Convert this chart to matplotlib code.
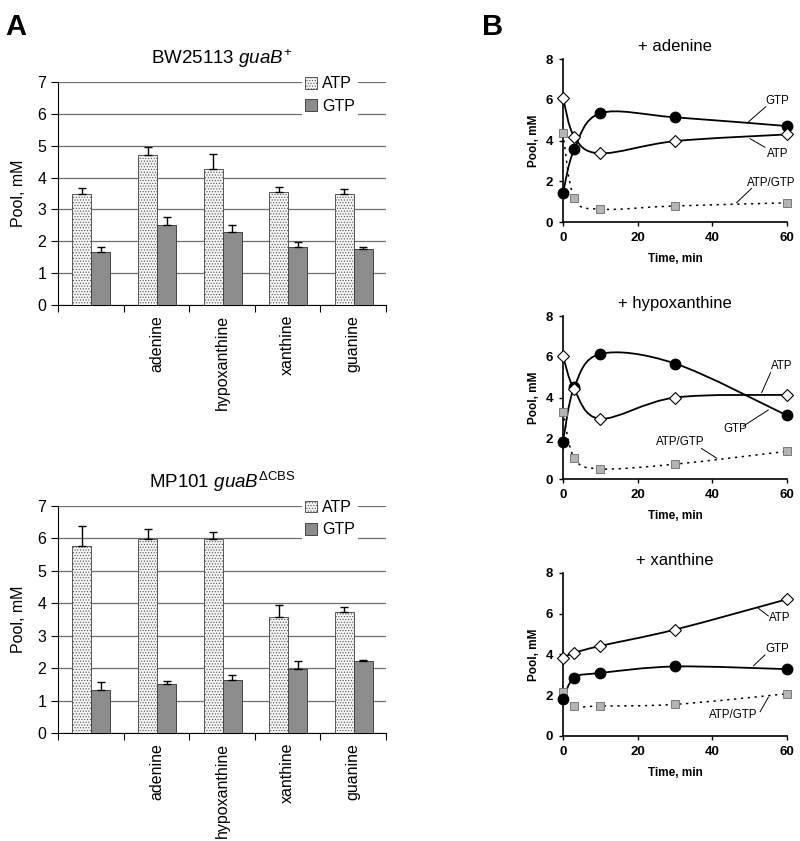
import matplotlib
matplotlib.use('Agg')
import matplotlib.pyplot as plt
from matplotlib.path import Path
from matplotlib.patches import PathPatch, Patch
import numpy as np

plt.rcParams['font.family'] = ['Liberation Sans', 'DejaVu Sans']
plt.rcParams['mathtext.fontset'] = 'custom'
plt.rcParams['mathtext.rm'] = 'Liberation Sans'
plt.rcParams['mathtext.it'] = 'Liberation Sans:italic'
plt.rcParams['hatch.color'] = '#a8a8a8'
plt.rcParams['hatch.linewidth'] = 0.5

######## Data ########

categories = ['', 'adenine', 'hypoxanthine', 'xanthine', 'guanine']

# BW25113 guaB+
wt_atp = [3.50, 4.70, 4.27, 3.55, 3.47]
wt_atp_err = [0.17, 0.27, 0.46, 0.15, 0.17]
wt_gtp = [1.67, 2.50, 2.30, 1.83, 1.75]
wt_gtp_err = [0.16, 0.25, 0.22, 0.14, 0.08]

# MP101 guaB dCBS
mut_atp = [5.78, 5.97, 5.98, 3.58, 3.72]
mut_atp_err = [0.59, 0.33, 0.22, 0.37, 0.15]
mut_gtp = [1.33, 1.50, 1.62, 1.98, 2.23]
mut_gtp_err = [0.25, 0.10, 0.16, 0.24, 0.03]

time_min = [0, 3, 10, 30, 60]

ade_atp = [6.11, 4.19, 3.37, 3.97, 4.30]
ade_gtp = [1.43, 3.56, 5.34, 5.14, 4.71]
ade_ratio = [4.35, 1.18, 0.63, 0.79, 0.94]

hyp_atp = [6.04, 4.40, 2.96, 4.00, 4.13]
hyp_gtp = [1.84, 4.50, 6.14, 5.67, 3.12]
hyp_ratio = [3.31, 1.03, 0.50, 0.73, 1.36]

xan_atp = [3.85, 4.08, 4.42, 5.22, 6.71]
xan_gtp = [1.80, 2.86, 3.09, 3.41, 3.28]
xan_ratio = [2.17, 1.47, 1.47, 1.55, 2.07]


def smooth_path(x, y):
    # Excel-style smoothed line: Catmull-Rom segments as cubic Beziers
    x = np.asarray(x, float)
    y = np.asarray(y, float)
    pts = np.column_stack([x, y])
    n = len(pts)
    verts = [pts[0]]
    codes = [Path.MOVETO]
    for i in range(n - 1):
        p0 = pts[max(i - 1, 0)]
        p1 = pts[i]
        p2 = pts[i + 1]
        p3 = pts[min(i + 2, n - 1)]
        c1 = p1 + (p2 - p0) / 6.0
        c2 = p2 - (p3 - p1) / 6.0
        verts += [c1, c2, p2]
        codes += [Path.CURVE4] * 3
    return Path(verts, codes)


fig = plt.figure(figsize=(8, 8.41), dpi=100)


######## Panel A: bar charts ########

def bar_panel(rect, atp, atp_err, gtp, gtp_err, title):
    ax = fig.add_axes(rect)
    idx = np.arange(len(categories))
    w = 0.29
    ax.bar(idx + 0.22, atp, width=w, align='edge', color='#f4f4f4',
           edgecolor='#555555', linewidth=0.7, hatch='......', zorder=3)
    ax.bar(idx + 0.51, gtp, width=w, align='edge', color='#8c8c8c',
           edgecolor='#444444', linewidth=0.7, zorder=3)
    ax.errorbar(idx + 0.22 + w / 2, atp, yerr=[np.zeros(len(atp)), atp_err],
                fmt='none', ecolor='black', elinewidth=1.0, capsize=3, capthick=1.0, zorder=4)
    ax.errorbar(idx + 0.51 + w / 2, gtp, yerr=[np.zeros(len(gtp)), gtp_err],
                fmt='none', ecolor='black', elinewidth=1.0, capsize=3, capthick=1.0, zorder=4)
    ax.set_xlim(0, 5)
    ax.set_ylim(0, 7)
    ax.set_yticks(range(8))
    ax.yaxis.grid(True, color='#6e6e6e', linewidth=0.9)
    ax.set_axisbelow(True)
    ax.set_xticks(range(6))
    ax.set_xticklabels([])
    ax.set_xticks(idx + 0.5, minor=True)
    ax.set_xticklabels(categories, minor=True, rotation=90, fontsize=11.5)
    ax.tick_params(axis='x', which='minor', length=0, pad=7)
    ax.tick_params(axis='x', which='major', length=5, direction='out')
    ax.tick_params(axis='y', length=5, labelsize=11.5)
    for s in ['top', 'right']:
        ax.spines[s].set_visible(False)
    ax.set_ylabel('Pool, mM', fontsize=11.5, labelpad=8)
    ax.set_title(title, fontsize=13.5, pad=13)
    handles = [Patch(facecolor='#f4f4f4', edgecolor='#555555', hatch='......', linewidth=0.7),
               Patch(facecolor='#8c8c8c', edgecolor='#444444', linewidth=0.7)]
    leg = ax.legend(handles, ['ATP', 'GTP'], loc='upper right', bbox_to_anchor=(0.94, 1.075),
                    frameon=True, fancybox=False, edgecolor='none', facecolor='white',
                    framealpha=1, fontsize=11.5, handlelength=0.75, handleheight=0.75,
                    handletextpad=0.3, labelspacing=0.45, borderpad=0.2)
    leg.set_zorder(5)
    return ax


bar_panel([0.0725, 0.6373, 0.41, 0.2652], wt_atp, wt_atp_err, wt_gtp, wt_gtp_err,
          r'BW25113 $\mathit{guaB}^{+}$')
bar_panel([0.0725, 0.1284, 0.41, 0.27], mut_atp, mut_atp_err, mut_gtp, mut_gtp_err,
          r'MP101 $\mathit{guaB}^{\Delta\mathrm{CBS}}$')


######## Panel B: time courses ########

def time_panel(rect, title, atp, gtp, ratio, labels):
    ax = fig.add_axes(rect)
    for ys in [atp, gtp]:
        ax.add_patch(PathPatch(smooth_path(time_min, ys), facecolor='none',
                               edgecolor='black', linewidth=1.3, zorder=2))
    ax.add_patch(PathPatch(smooth_path(time_min, ratio), facecolor='none',
                           edgecolor='black', linewidth=1.1, linestyle=(0, (1.5, 3)), zorder=2))
    ax.plot(time_min, ratio, 's', ms=5.5, mfc='#b4b4b4', mec='#6a6a6a', mew=0.6,
            clip_on=False, zorder=3)
    ax.plot(time_min, gtp, 'o', ms=7.5, mfc='black', mec='black', clip_on=False, zorder=4)
    ax.plot(time_min, atp, 'D', ms=6.5, mfc='white', mec='black', mew=0.8,
            clip_on=False, zorder=5)
    for text, txy, p1, p2 in labels:
        ax.plot([p1[0], p2[0]], [p1[1], p2[1]], color='black', linewidth=0.7, zorder=6)
        ax.text(txy[0], txy[1], text, fontsize=8.3, ha='center', va='center', zorder=6)
    ax.set_xlim(0, 60)
    ax.set_ylim(0, 8)
    ax.set_xticks([0, 20, 40, 60])
    ax.set_yticks([0, 2, 4, 6, 8])
    for s in ['top', 'right']:
        ax.spines[s].set_visible(False)
    for s in ['left', 'bottom']:
        ax.spines[s].set_linewidth(1.2)
    ax.tick_params(length=3, width=1, labelsize=9.5, pad=4)
    for lab in ax.get_xticklabels() + ax.get_yticklabels():
        lab.set_fontweight('bold')
    ax.set_xlabel('Time, min', fontsize=8.5, fontweight='bold', labelpad=7)
    ax.set_ylabel('Pool, mM', fontsize=8.5, fontweight='bold', labelpad=4)
    ax.set_title(title, fontsize=12, pad=6)
    return ax


time_panel([0.70375, 0.736, 0.28, 0.1938], '+ adenine', ade_atp, ade_gtp, ade_ratio,
           [('GTP', (57.5, 5.95), (54.3, 5.66), (49.4, 4.87)),
            ('ATP', (57.4, 3.32), (54.1, 3.67), (50.1, 4.09)),
            ('ATP/GTP', (55.7, 1.90), (50.5, 1.65), (46.5, 0.95))])
time_panel([0.70375, 0.4304, 0.28, 0.1938], '+ hypoxanthine', hyp_atp, hyp_gtp, hyp_ratio,
           [('ATP', (58.6, 5.55), (55.6, 5.22), (53.2, 4.24)),
            ('GTP', (46.1, 2.44), (48.3, 2.60), (55.0, 3.39)),
            ('ATP/GTP', (31.3, 1.80), (37.1, 1.50), (41.2, 1.02))])
time_panel([0.70375, 0.1249, 0.28, 0.1938], '+ xanthine', xan_atp, xan_gtp, xan_ratio,
           [('ATP', (58.1, 5.77), (55.0, 5.89), (52.3, 6.27)),
            ('GTP', (57.5, 4.25), (54.1, 3.98), (51.0, 3.44)),
            ('ATP/GTP', (45.6, 1.03), (52.8, 1.19), (55.0, 1.90))])

fig.text(0.006, 0.985, 'A', fontsize=21, fontweight='bold', va='top', ha='left')
fig.text(0.603, 0.985, 'B', fontsize=21, fontweight='bold', va='top', ha='left')

fig.savefig('out.png', dpi=100)
